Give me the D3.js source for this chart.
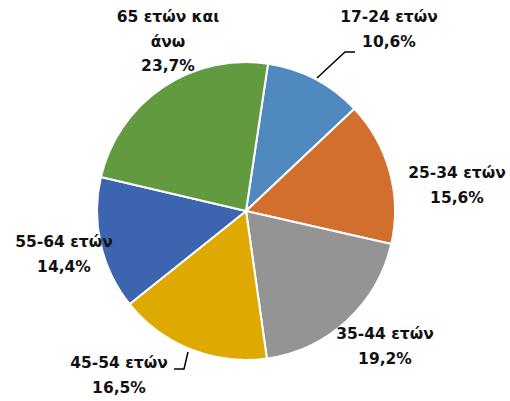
<!DOCTYPE html>
<html><head><meta charset="utf-8">
<script src="https://cdn.jsdelivr.net/npm/d3@7"></script>
<style>html,body{margin:0;padding:0;background:#fff;}</style>
</head><body>
<svg id="c" width="510" height="401"></svg>
<script>
const categories = ["17-24 ετών","25-34 ετών","35-44 ετών","45-54 ετών","55-64 ετών","65 ετών και άνω"];
const values = [10.6, 15.6, 19.2, 16.5, 14.4, 23.7];
const valueLabels = ["10,6%","15,6%","19,2%","16,5%","14,4%","23,7%"];
const labelLines = [["17-24 ετών"],["25-34 ετών"],["35-44 ετών"],["45-54 ετών"],["55-64 ετών"],["65 ετών και","άνω"]];

const colors = ["#4F89C0","#D36F2D","#949494","#DEA900","#3D64AE","#629A3F"];
const layout = {
  cx: 246, cy: 211, r: 149, start: 8.5,
  labels: [[389,22],[457,178],[385,339],[119,368],[64,247],[168,22]],
  leaders: [[[355,52],[345,52],[317,78]], null, null, [[174,369],[184,369],[188,352]], null, null]
};
const svg = d3.select("#c");
const g = svg.append("g").attr("transform",`translate(${layout.cx},${layout.cy})`);
const a0 = layout.start*Math.PI/180;
const pie = d3.pie().sort(null).value(d=>d).startAngle(a0).endAngle(a0+2*Math.PI);
const arc = d3.arc().innerRadius(0).outerRadius(layout.r);
g.selectAll("path").data(pie(values)).join("path")
  .attr("d",arc).attr("fill",(d,i)=>colors[i]).attr("stroke","#fff").attr("stroke-width",2).attr("stroke-linejoin","round");

layout.leaders.forEach(l=>{ if(!l) return;
  svg.append("path").attr("d",d3.line()(l)).attr("fill","none").attr("stroke","#000").attr("stroke-width",1.5);
});
const lh = 24.5;
categories.forEach((c,i)=>{
  const [x,y] = layout.labels[i];
  const lines = labelLines[i].concat([valueLabels[i]]);
  const t = svg.append("text").attr("x",x).attr("y",y).attr("text-anchor","middle")
    .attr("font-family","'DejaVu Sans', sans-serif").attr("font-weight","bold").attr("font-size","15.5px").attr("fill","#111");
  lines.forEach((s,k)=>t.append("tspan").attr("x",x).attr("y",y+k*lh).text(s));
});
</script>
</body></html>
